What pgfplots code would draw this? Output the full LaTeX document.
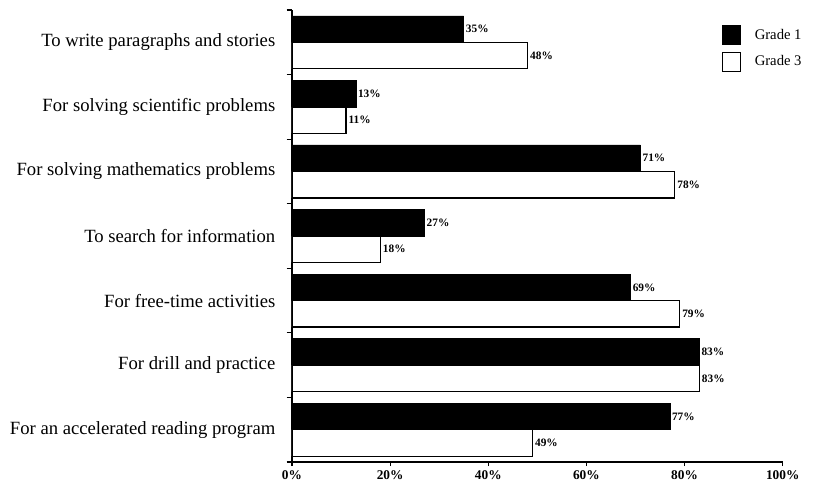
\documentclass[border=0pt]{standalone}
\usepackage{fontspec}
\setmainfont{Liberation Serif}
\usepackage{pgfplots}
\pgfplotsset{compat=1.18}
\begin{document}
\begin{tikzpicture}
\begin{axis}[name=ax,
  xbar, scale only axis, width=368pt, height=339pt,
  xmin=0, xmax=100, ymin=-0.5, ymax=6.5,
  axis x line*=bottom, axis y line*=left,
  axis line style={line width=1pt},
  /pgf/number format/assume math mode=true,
  xtick={0,20,...,100},
  xticklabel={\bfseries\pgfmathprintnumber{\tick}\%},
  x tick label style={font=\fontsize{10}{12}\selectfont},
  ytick={0,...,6},
  yticklabels={For an accelerated reading program, For drill and practice, For free-time activities, To search for information, For solving mathematics problems, For solving scientific problems, To write paragraphs and stories},
  y tick label style={font=\fontsize{14}{16}\selectfont, xshift=-6pt},
  major y tick style={draw=none},
  minor ytick={-0.5,0.5,...,6.5},
  minor tick length=4pt, major tick length=3pt,
  tick align=outside, tick style={black, line width=0.8pt},
  bar width=0.41,
  nodes near coords={\pgfmathprintnumber{\pgfplotspointmeta}\%},
  nodes near coords style={font=\bfseries\fontsize{8.5}{10}\selectfont, anchor=west, inner sep=1.5pt},
  legend style={at={(0.876,0.967)}, anchor=north west, draw=none, inner sep=0pt,
    font=\fontsize{11}{13}\selectfont, row sep=5pt, cells={anchor=west}},
  legend image code/.code={\draw[#1,line width=1pt] (0pt,-7pt) rectangle (13.5pt,7pt);},
  legend cell align=left,
]
\addplot[fill=black, draw=black, bar shift=0.205] coordinates {
(77,0) (83,1) (69,2) (27,3) (71,4) (13,5) (35,6)};
\addlegendentry{\hspace{8pt}Grade 1}
\addplot[fill=white, draw=black, line width=1pt, bar shift=-0.205] coordinates {
(49,0) (83,1) (79,2) (18,3) (78,4) (11,5) (48,6)};
\addlegendentry{\hspace{8pt}Grade 3}
\end{axis}
\pgfresetboundingbox
\path[use as bounding box] ([xshift=-219pt,yshift=-24pt]ax.south west) rectangle ([xshift=390.75pt,yshift=346.5pt]ax.south west);
\end{tikzpicture}
\end{document}
